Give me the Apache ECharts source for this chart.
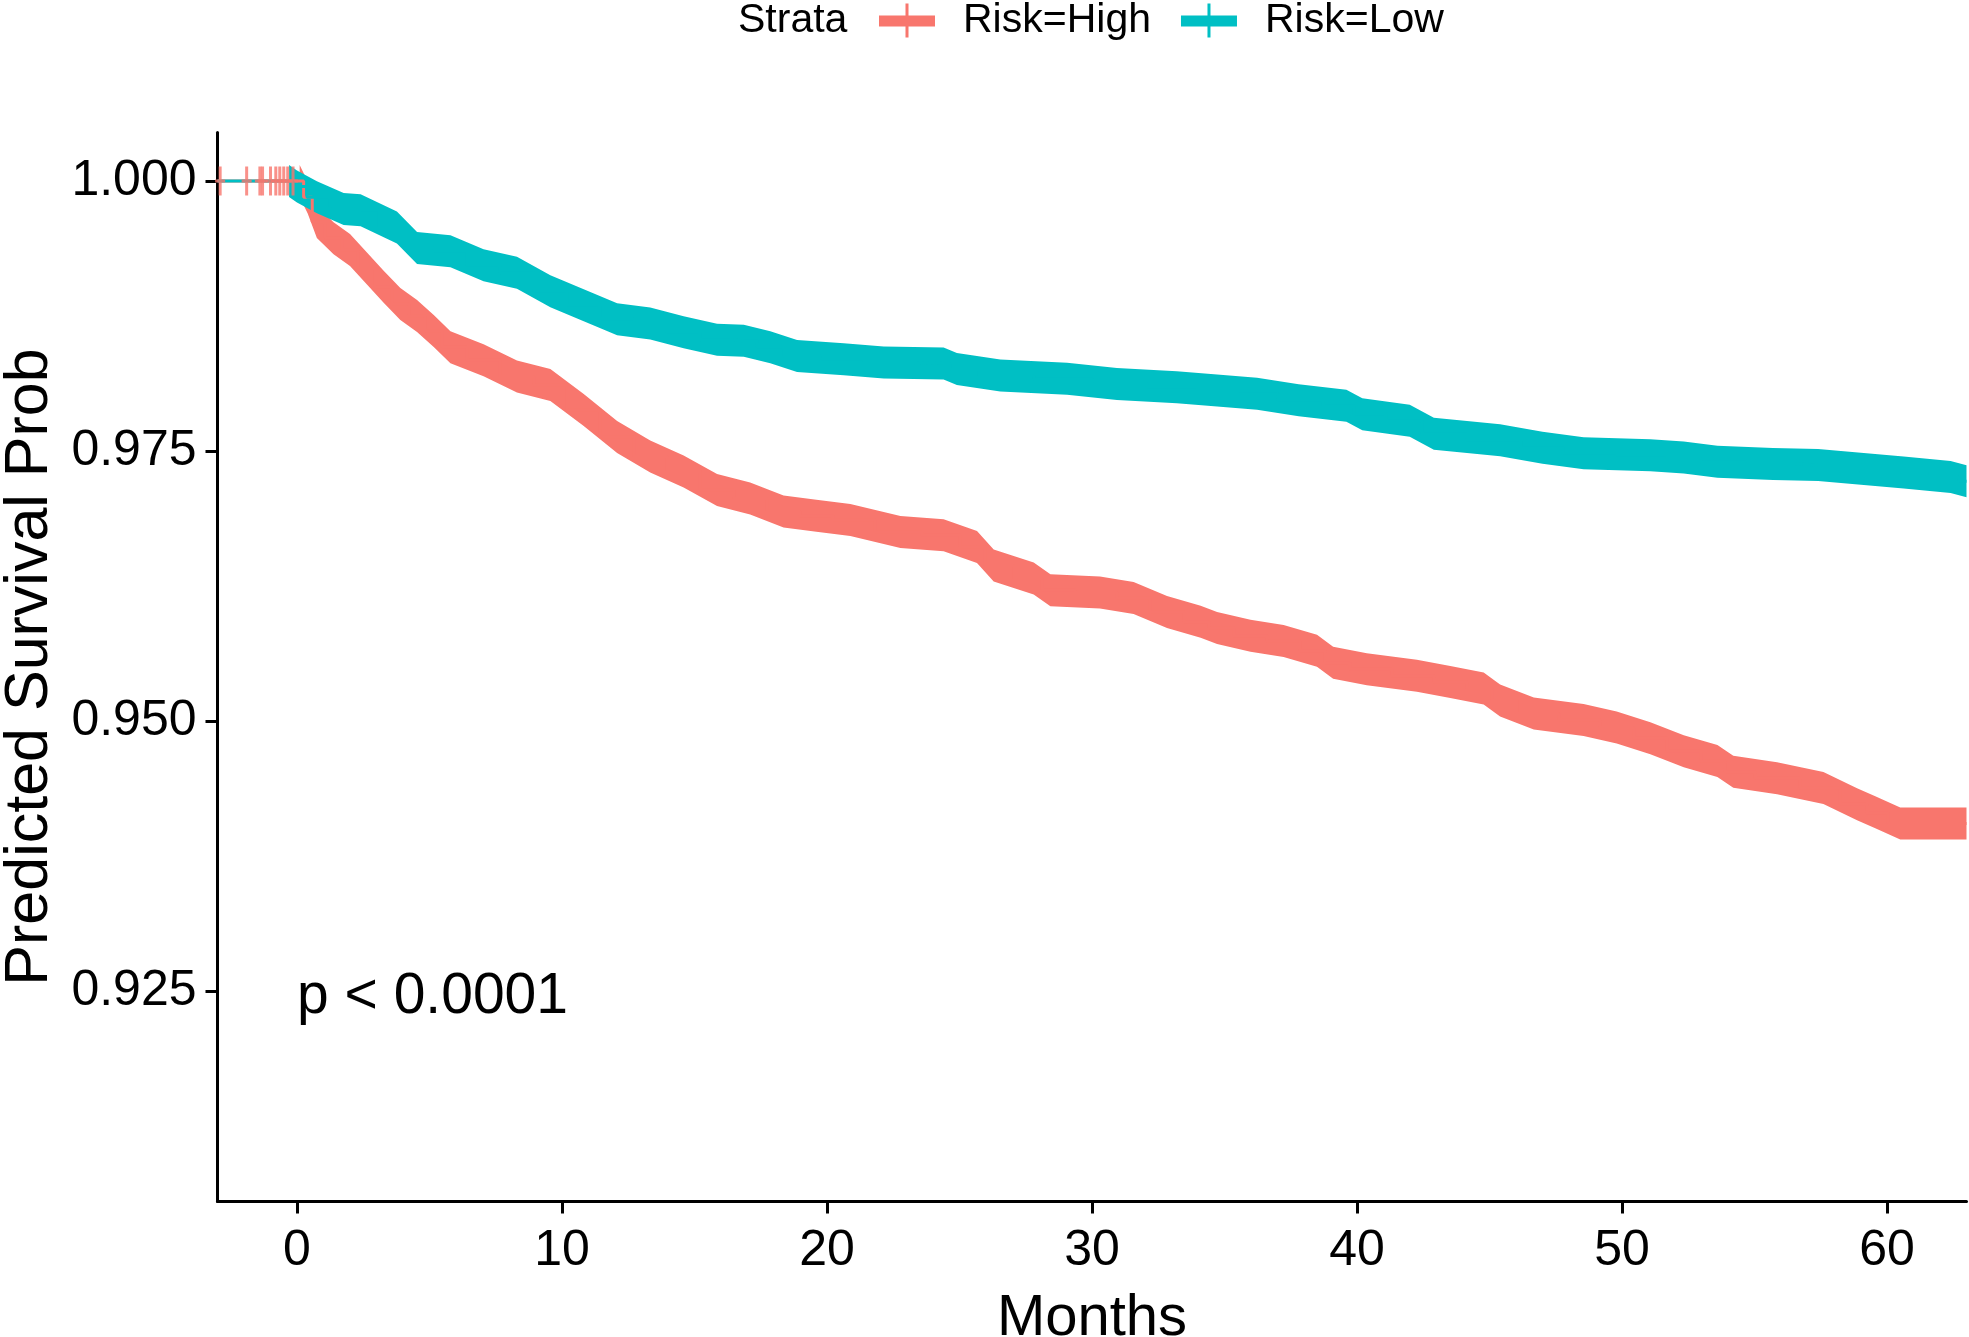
<!DOCTYPE html>
<html>
<head>
<meta charset="utf-8">
<script src="https://cdn.jsdelivr.net/npm/echarts@6/dist/echarts.min.js"></script>
<style>
html,body{margin:0;padding:0;background:#ffffff;}
#chart{width:1969px;height:1337px;}
</style>
</head>
<body>
<div id="chart"></div>
<script>
// ---------- data ----------
const legendTitle = 'Strata';
const strataNames = ['Risk=High', 'Risk=Low'];
const strataColors = ['#F8766D', '#00BFC4'];
const xTitle = 'Months';
const yTitle = 'Predicted Survival Prob';
const pValueText = 'p < 0.0001';
const pValuePos = [0, 0.925];
const xTicks = [0, 10, 20, 30, 40, 50, 60];
const yTicks = [0.925, 0.950, 0.975, 1.000];

// Risk=High curve [months, survival]
const highCurve = [
  [-3, 1.0], [0.1, 1.0], [0.4, 0.9985], [0.75, 0.9962], [1.38, 0.9947], [2.0, 0.9936],
  [2.64, 0.9919], [3.27, 0.9902], [3.9, 0.9886], [4.53, 0.9875], [5.16, 0.9861],
  [5.79, 0.9846], [7.04, 0.9834], [8.3, 0.9819], [9.56, 0.9811], [10.82, 0.9788],
  [12.08, 0.9763], [13.33, 0.9745], [14.59, 0.9731], [15.85, 0.9714], [17.1, 0.9706],
  [18.36, 0.9694], [19.6, 0.9690], [20.88, 0.9686], [22.77, 0.9675], [24.4, 0.9672],
  [25.66, 0.9661], [26.29, 0.9644], [27.8, 0.9632], [28.43, 0.9621], [30.3, 0.9619],
  [31.57, 0.9614], [32.83, 0.9601], [34.1, 0.9592], [34.72, 0.9586], [35.98, 0.9579],
  [37.23, 0.9574], [38.49, 0.9565], [39.1, 0.9554], [40.37, 0.9548], [42.26, 0.9542],
  [43.52, 0.9536], [44.78, 0.9530], [45.4, 0.9519], [46.67, 0.9507], [48.55, 0.9501],
  [49.8, 0.9494], [51.07, 0.9484], [52.33, 0.9472], [53.6, 0.9463], [54.2, 0.9453],
  [55.85, 0.9447], [57.6, 0.9438], [58.87, 0.9423], [59.6, 0.9415], [60.5, 0.9405],
  [63, 0.9405]
];
const highBandStart = 0.1;
const highCensorTimes = [-2.9, -1.9, -1.4, -1.3, -1.0, -0.8, -0.65, -0.5, -0.35, -0.15];

// Risk=Low curve [months, survival]
const lowCurve = [
  [-3, 1.0], [-0.3, 1.0], [0, 0.9995], [0.75, 0.9985], [1.76, 0.9974], [2.4, 0.9973],
  [3.77, 0.9957], [4.53, 0.9938], [5.79, 0.9935], [7.04, 0.9922], [8.3, 0.9915],
  [9.56, 0.9898], [10.82, 0.9885], [12.08, 0.9872], [13.33, 0.9868], [14.59, 0.9860],
  [15.85, 0.9853], [16.86, 0.9852], [17.86, 0.9846], [18.87, 0.9838], [20.63, 0.9835],
  [22.14, 0.9832], [24.4, 0.9831], [24.9, 0.9826], [26.54, 0.9820], [29.06, 0.9817],
  [30.94, 0.9812], [33.2, 0.9809], [34.72, 0.9806], [36.23, 0.9803], [37.8, 0.9797],
  [39.6, 0.9792], [40.2, 0.9784], [41.99, 0.9778], [42.9, 0.9766], [45.4, 0.9760],
  [47.0, 0.9753], [48.55, 0.9748], [51.07, 0.9746], [52.33, 0.9744], [53.6, 0.9740],
  [55.7, 0.9738], [57.4, 0.9737], [60.63, 0.9730], [62.4, 0.9726], [63, 0.9722]
];
const lowBandStart = -0.3;

// ---------- style ----------
const FONT = "'Liberation Sans', Arial, Helvetica, sans-serif";
const BAND_HALF_PX = 16;   // half height (px) of the dense censor-mark band
const legendIcon = 'path://M0,12 L56,12 L56,23 L0,23 Z M26.5,0 L29.5,0 L29.5,34 L26.5,34 Z';
const censorIcon = 'path://M0,13 L10,13 L10,16 L0,16 Z M3.5,0 L6.5,0 L6.5,29 L3.5,29 Z';

function thinLine(name, color, curve) {
  return {
    name: name, type: 'line', step: 'middle', color: color,
    data: curve, showSymbol: false, symbol: 'none',
    itemStyle: {color: color},
    lineStyle: {color: color, width: 3}, silent: true
  };
}

// Dense band of vertical censor marks along the curve, drawn as a polygon through the axis scales.
function bandSeries(name, color, curve, bandStart) {
  const pts = curve.filter(p => p[0] >= bandStart);
  return {
    name: name, type: 'custom', color: color, silent: true, clip: true,
    data: [pts[0]],
    encode: {x: 0, y: 1},
    renderItem: function (params, api) {
      const px = pts.map(p => api.coord(p));
      const upper = px.map(p => [p[0], p[1] - BAND_HALF_PX]);
      const lower = px.slice().reverse().map(p => [p[0], p[1] + BAND_HALF_PX]);
      return {
        type: 'polygon',
        shape: {points: upper.concat(lower)},
        style: {fill: color, stroke: null}
      };
    }
  };
}

const chart = echarts.init(document.getElementById('chart'), null, {renderer: 'canvas'});

const series = [
  thinLine(strataNames[0], strataColors[0], highCurve),
  bandSeries(strataNames[0], strataColors[0], highCurve, highBandStart),
  thinLine(strataNames[1], strataColors[1], lowCurve),
  bandSeries(strataNames[1], strataColors[1], lowCurve, lowBandStart),
  {
    name: 'censor_high', type: 'scatter', color: strataColors[0],
    data: highCensorTimes.map(t => [t, 1.0]),
    symbol: censorIcon, symbolSize: [10, 29], symbolKeepAspect: false,
    itemStyle: {color: strataColors[0]}, silent: true, z: 5
  },
  {
    name: 'pvalue', type: 'scatter', data: [pValuePos], symbolSize: 0, silent: true, z: 6,
    label: {
      show: true, position: 'right', distance: 0, offset: [0, 6], formatter: pValueText,
      fontFamily: FONT, fontSize: 57, color: '#000000', opacity: 1
    }
  }
];

const option = {
  animation: false,
  backgroundColor: '#ffffff',
  textStyle: {fontFamily: FONT},
  graphic: [{
    type: 'text', left: 738, top: 0,
    style: {text: legendTitle, font: '41px ' + FONT, fill: '#000'}
  }],
  legend: {
    data: strataNames.map((n, i) => ({name: n, icon: legendIcon, itemStyle: {color: strataColors[i]}})),
    left: 879, top: 0, padding: 0,
    itemWidth: 56, itemHeight: 34, itemGap: 30,
    selectedMode: false,
    textStyle: {fontFamily: FONT, fontSize: 41, color: '#000', padding: [0, 0, 0, 23]}
  },
  grid: {left: 217.5, width: 1749, top: 132.4, height: 1069.2, containLabel: false, outerBoundsMode: 'none'},
  xAxis: {
    type: 'value', min: -3, max: 63,
    name: xTitle, nameLocation: 'middle', nameGap: 88,
    nameTextStyle: {fontFamily: FONT, fontSize: 58, color: '#000'},
    axisLine: {show: true, onZero: false, lineStyle: {color: '#000', width: 3}},
    axisTick: {show: true, customValues: xTicks, length: 12, lineStyle: {color: '#000', width: 3}},
    axisLabel: {customValues: xTicks, fontFamily: FONT, fontSize: 50, color: '#000', margin: 25},
    splitLine: {show: false}
  },
  yAxis: {
    type: 'value', min: 0.9055, max: 1.0045,
    name: yTitle, nameLocation: 'middle', nameGap: 156, nameRotate: 90,
    nameTextStyle: {fontFamily: FONT, fontSize: 61, color: '#000'},
    axisLine: {show: true, onZero: false, lineStyle: {color: '#000', width: 3}},
    axisTick: {show: true, customValues: yTicks, length: 12, lineStyle: {color: '#000', width: 3}},
    axisLabel: {customValues: yTicks, formatter: v => v.toFixed(3), fontFamily: FONT, fontSize: 50, color: '#000', margin: 21},
    splitLine: {show: false}
  },
  series: series
};

chart.setOption(option);
</script>
</body>
</html>
